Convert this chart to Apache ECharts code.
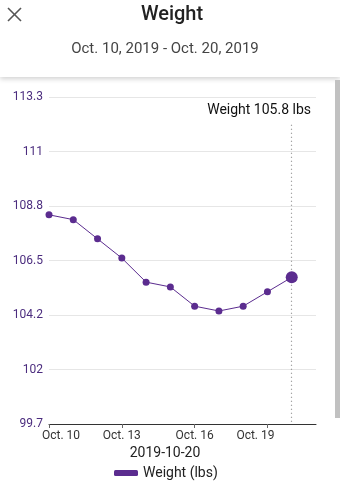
<!DOCTYPE html>
<html>
<head>
<meta charset="utf-8">
<script src="https://cdn.jsdelivr.net/npm/echarts@6/dist/echarts.min.js"></script>
<style>
html,body{margin:0;padding:0;background:#fff;}
#chart{width:340px;height:500px;}
</style>
</head>
<body>
<div id="chart"></div>
<script>
// ---- data ----
var days = ['Oct. 10','Oct. 11','Oct. 12','Oct. 13','Oct. 14','Oct. 15','Oct. 16','Oct. 17','Oct. 18','Oct. 19','Oct. 20','Oct. 21'];
var weights = [108.4, 108.2, 107.4, 106.6, 105.6, 105.4, 104.6, 104.4, 104.6, 105.2, 105.8];
var yTickLabels = ['99.7','102','104.2','106.5','108.8','111','113.3'];
var yMin = 99.7, yMax = 113.3;
var titleText = 'Weight';
var rangeText = 'Oct. 10, 2019 - Oct. 20, 2019';
var selectedDate = '2019-10-20';
var seriesName = 'Weight (lbs)';

var purple = '#5b2c8f';
var lastIdx = weights.length - 1;

var seriesData = weights.map(function (v, i) {
  return i === lastIdx ? { value: v, symbolSize: 12 } : v;
});

var chart = echarts.init(document.getElementById('chart'), null, { renderer: 'canvas' });
chart.setOption({
  animation: false,
  backgroundColor: '#fff',
  textStyle: { fontFamily: 'Roboto' },
  title: [
    { text: titleText, left: 172, textAlign: 'center', top: 5, padding: 0,
      textStyle: { fontSize: 20, fontWeight: 500, color: '#222', fontFamily: 'Roboto' } },
    { text: rangeText, left: 165, textAlign: 'center', top: 42, padding: 0,
      textStyle: { fontSize: 15, fontWeight: 'normal', color: '#444', fontFamily: 'Roboto' } },
    { text: 'Weight ' + weights[lastIdx] + ' lbs', right: 29, top: 103, padding: 0,
      textStyle: { fontSize: 14, fontWeight: 'normal', color: '#111', fontFamily: 'Roboto' } },
    { text: selectedDate, left: 165, textAlign: 'center', top: 446, padding: 0,
      textStyle: { fontSize: 14, fontWeight: 'normal', color: '#222', fontFamily: 'Roboto' } }
  ],
  graphic: [
    { type: 'rect', z: 0, shape: { x: 0, y: -10, width: 340, height: 87 },
      style: { fill: '#fff', shadowBlur: 5, shadowColor: 'rgba(0,0,0,0.18)', shadowOffsetY: 2 } },
    { type: 'rect', z: 1, shape: { x: 335, y: 80, width: 5, height: 338 },
      style: { fill: '#c1c1c1' } },
    { type: 'line', z: 2, shape: { x1: 8, y1: 8, x2: 21, y2: 21 },
      style: { stroke: '#555', lineWidth: 1.6 } },
    { type: 'line', z: 2, shape: { x1: 21, y1: 8, x2: 8, y2: 21 },
      style: { stroke: '#555', lineWidth: 1.6 } }
  ],
  legend: {
    left: 109, top: 461,
    itemWidth: 24, itemHeight: 6, itemGap: 10,
    icon: 'roundRect',
    textStyle: { fontSize: 14, color: '#222', fontFamily: 'Roboto' },
    data: [seriesName]
  },
  grid: { left: 49, right: 24, top: 97, bottom: 76 },
  xAxis: {
    type: 'category',
    boundaryGap: false,
    data: days,
    axisLine: { lineStyle: { color: '#333', width: 1 } },
    axisTick: { interval: 2, length: 4, lineStyle: { color: '#666' } },
    axisLabel: {
      interval: 2, margin: 6, fontSize: 12, color: '#333',
      formatter: function (v, i) {
        if (i === 0) return '{f|' + v + '}';
        if (i === 9) return '{l|' + v + '}';
        return '{m|' + v + '}';
      },
      rich: {
        f: { fontSize: 12, color: '#333', padding: [0, 0, 0, 24] },
        l: { fontSize: 12, color: '#333', padding: [0, 24, 0, 0] },
        m: { fontSize: 12, color: '#333' }
      }
    },
    splitLine: { show: false }
  },
  yAxis: [
    { type: 'value', min: yMin, max: yMax, show: false, splitLine: { show: false } },
    {
      type: 'value', min: 0, max: yTickLabels.length - 1, interval: 1, position: 'left',
      axisLine: { show: false }, axisTick: { show: false },
      axisLabel: {
        margin: 6, fontSize: 12, color: '#4b2c7e',
        formatter: function (v) { return yTickLabels[Math.round(v)]; }
      },
      splitLine: { lineStyle: { color: '#e6e6e6', width: 1.2 } }
    }
  ],
  series: [{
    name: seriesName,
    type: 'line',
    yAxisIndex: 0,
    data: seriesData,
    symbol: 'circle',
    symbolSize: 7,
    showSymbol: true,
    itemStyle: { color: purple },
    lineStyle: { color: purple, width: 1 },
    z: 5,
    markLine: {
      silent: true,
      symbol: 'none',
      label: { show: false },
      lineStyle: { type: [1, 3], color: '#888', width: 1.2 },
      data: [[ { coord: [lastIdx, 112.15] }, { coord: [lastIdx, yMin] } ]]
    }
  }]
});
</script>
</body>
</html>
